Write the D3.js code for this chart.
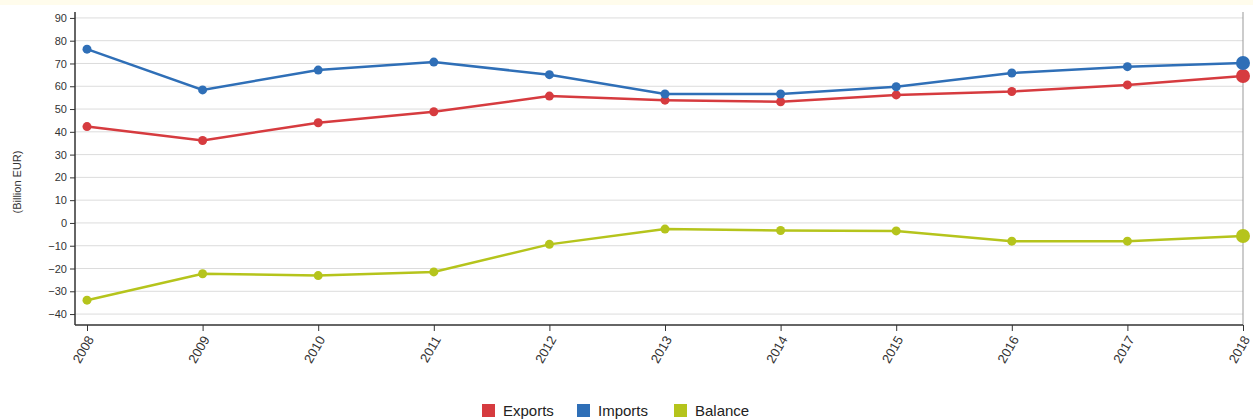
<!DOCTYPE html>
<html>
<head>
<meta charset="utf-8">
<script src="https://cdn.jsdelivr.net/npm/d3@7"></script>
<style>
  body { margin: 0; background: #fff; font-family: "Liberation Sans", Arial, sans-serif; }
</style>
</head>
<body>
<div id="chart"></div>
<script>
// Data
var years = ["2008", "2009", "2010", "2011", "2012", "2013", "2014", "2015", "2016", "2017", "2018"];
var exports = [42.3, 36.2, 44.0, 48.8, 55.7, 53.9, 53.2, 56.2, 57.7, 60.6, 64.5];
var imports = [76.3, 58.4, 67.1, 70.6, 65.1, 56.6, 56.6, 59.8, 65.8, 68.6, 70.2];
var balance = [-33.9, -22.3, -23.1, -21.5, -9.4, -2.7, -3.3, -3.5, -8.0, -8.0, -5.7];
var yTicks = [-40, -30, -20, -10, 0, 10, 20, 30, 40, 50, 60, 70, 80, 90];

var series = [
    {name: "Exports", values: exports, color: "#d63b3f"},
    {name: "Imports", values: imports, color: "#2f6fb7"},
    {name: "Balance", values: balance, color: "#b5c41c"}
];

var W = 1253, H = 419;
var margin = {top: 12, right: 10, bottom: 94, left: 75};
var width = W - margin.left - margin.right,
    height = H - margin.top - margin.bottom;

var svgRoot = d3.select("#chart").append("svg")
    .attr("width", W)
    .attr("height", H);

// pale strip at top
svgRoot.append("rect")
    .attr("x", 0).attr("y", 0)
    .attr("width", W).attr("height", 5)
    .attr("fill", "#fffcec");

var svg = svgRoot.append("g")
    .attr("transform", "translate(" + margin.left + "," + margin.top + ")");

var x = d3.scalePoint()
    .domain(years)
    .range([12, 1168]);

var y = d3.scaleLinear()
    .domain([-44.8, 92.6])
    .range([height, 0]);

// gridlines
svg.append("g")
    .selectAll("line")
    .data(yTicks)
    .enter()
    .append("line")
    .attr("x1", 0)
    .attr("x2", width)
    .attr("y1", function(d) { return y(d); })
    .attr("y2", function(d) { return y(d); })
    .attr("stroke", "#dcdcdc")
    .attr("stroke-width", 1);

// hover line at last year
svg.append("line")
    .attr("x1", x("2018")).attr("x2", x("2018"))
    .attr("y1", 0).attr("y2", height)
    .attr("stroke", "#999")
    .attr("stroke-width", 1);

// Y axis
var yAxis = svg.append("g")
    .call(d3.axisLeft(y).tickValues(yTicks).tickSize(5).tickPadding(3));
yAxis.select(".domain").attr("stroke", "#333").attr("stroke-width", 1.5).attr("d", "M0,0V" + height);
yAxis.selectAll(".tick line").attr("stroke", "#333");
yAxis.selectAll("text")
    .attr("fill", "#333")
    .style("font-size", "11px")
    .style("font-family", "Liberation Sans, Arial, sans-serif");

// Y axis title
svgRoot.append("text")
    .attr("transform", "translate(21," + 182 + ") rotate(-90)")
    .attr("text-anchor", "middle")
    .style("font-size", "11px")
    .attr("fill", "#333")
    .text("(Billion EUR)");

// X axis
var xAxis = svg.append("g")
    .attr("transform", "translate(0," + height + ")")
    .call(d3.axisBottom(x).tickSize(6).tickPadding(4));
xAxis.select(".domain").attr("stroke", "#333").attr("stroke-width", 1.5).attr("d", "M0,0H" + width);
xAxis.selectAll(".tick line").attr("stroke", "#333");
xAxis.selectAll("text")
    .attr("fill", "#333")
    .style("font-size", "13px")
    .style("text-anchor", "end")
    .attr("x", 0)
    .attr("y", 0)
    .attr("dx", 0)
    .attr("dy", "0.35em")
    .attr("transform", "translate(3,12) rotate(-60)");

// lines
var line = d3.line()
    .x(function(d, i) { return x(years[i]); })
    .y(function(d) { return y(d); });

series.forEach(function(s) {
    svg.append("path")
        .datum(s.values)
        .attr("fill", "none")
        .attr("stroke", s.color)
        .attr("stroke-width", 2.5)
        .attr("d", line);

    svg.selectAll(null)
        .data(s.values)
        .enter()
        .append("circle")
        .attr("cx", function(d, i) { return x(years[i]); })
        .attr("cy", function(d) { return y(d); })
        .attr("r", function(d, i) { return i === years.length - 1 ? 7 : 4.5; })
        .attr("fill", s.color);
});

// legend
var legend = svgRoot.append("g")
    .attr("transform", "translate(482,404)");
var offsets = [0, 95, 192];
series.forEach(function(s, i) {
    var g = legend.append("g").attr("transform", "translate(" + offsets[i] + ",0)");
    g.append("rect")
        .attr("width", 13).attr("height", 13)
        .attr("fill", s.color);
    g.append("text")
        .attr("x", 21).attr("y", 12)
        .style("font-size", "15px")
        .attr("fill", "#222")
        .text(s.name);
});
</script>
</body>
</html>
